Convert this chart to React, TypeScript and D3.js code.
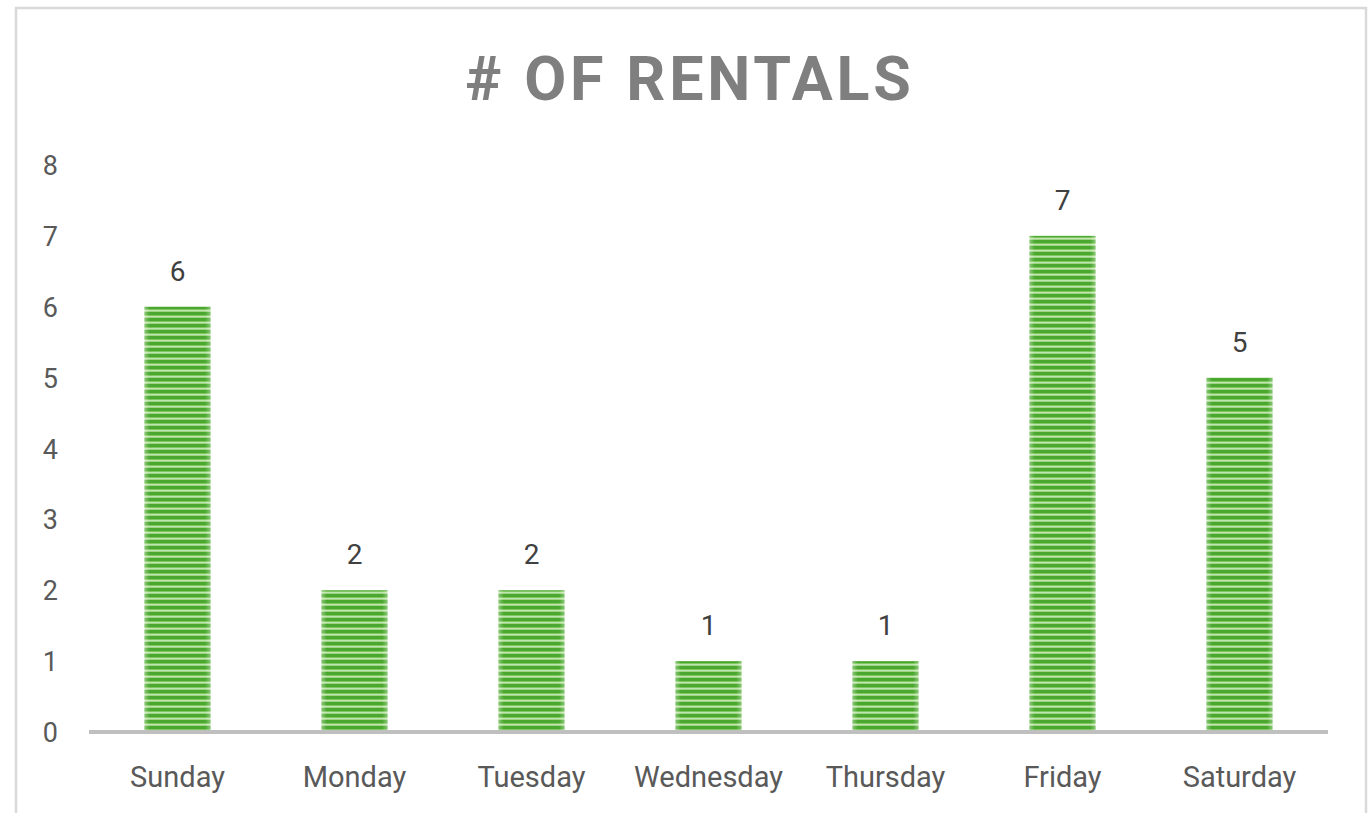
import React from 'react';
import * as d3 from 'd3';

const days = ['Sunday', 'Monday', 'Tuesday', 'Wednesday', 'Thursday', 'Friday', 'Saturday'];
const rentals = [6, 2, 2, 1, 1, 7, 5];
const yTicks = [0, 1, 2, 3, 4, 5, 6, 7, 8];

const width = 1371;
const height = 813;
const left = 89;
const right = 1328;
const top = 165;
const bottom = 732;

const App = () => {
  const x = d3.scaleBand().domain(days).range([left, right]).paddingInner(0.627).paddingOuter(0.3135);
  const y = d3.scaleLinear().domain([0, 8]).range([bottom, top]);

  return (
    <svg width={width} height={height} style={{ position: 'absolute', left: 0, top: 0, background: '#fff' }}>
      <defs>
        <pattern id="stripes" width="6" height="6" patternUnits="userSpaceOnUse">
          <rect width="6" height="6" fill="#c2e4b0" />
          <rect y="0" width="6" height="3" fill="#4aa82f" />
          <rect y="3" width="6" height="1" fill="#7fc660" />
          <rect y="5" width="6" height="1" fill="#9bd482" />
        </pattern>
        <linearGradient id="edge" x1="0" x2="1" y1="0" y2="0">
          <stop offset="0" stopColor="#fff" stopOpacity={0.35} />
          <stop offset="0.08" stopColor="#fff" stopOpacity={0} />
          <stop offset="0.92" stopColor="#fff" stopOpacity={0} />
          <stop offset="1" stopColor="#fff" stopOpacity={0.35} />
        </linearGradient>
      </defs>
      <rect x={16} y={8} width={1350} height={820} fill="#fff" stroke="#d9d9d9" strokeWidth={2.5} />

      <text x={690} y={100} textAnchor="middle" fontFamily="Roboto" fontWeight="bold" fontSize={61}
        letterSpacing={3.8} fill="#7f7f7f">
        # OF RENTALS
      </text>

      {yTicks.map(t => (
        <text key={t} x={58} y={y(t) + 10} textAnchor="end" fontFamily="Roboto" fontSize={27} fill="#595959">
          {t}
        </text>
      ))}

      {days.map((d, i) => (
        <g key={d}>
          <rect x={x(d)} y={y(rentals[i])} width={x.bandwidth()} height={bottom - y(rentals[i])} fill="url(#stripes)" />
          <rect x={x(d)} y={y(rentals[i])} width={x.bandwidth()} height={bottom - y(rentals[i])} fill="url(#edge)" />
          <text x={(x(d) ?? 0) + x.bandwidth() / 2} y={y(rentals[i]) - 26} textAnchor="middle"
            fontFamily="Roboto" fontSize={28} fill="#404040">
            {rentals[i]}
          </text>
          <text x={(x(d) ?? 0) + x.bandwidth() / 2} y={787} textAnchor="middle"
            fontFamily="Roboto" fontSize={29} fill="#595959">
            {d}
          </text>
        </g>
      ))}

      <line x1={left} x2={right} y1={bottom} y2={bottom} stroke="#bfbfbf" strokeWidth={4} />
    </svg>
  );
};

export default App;
